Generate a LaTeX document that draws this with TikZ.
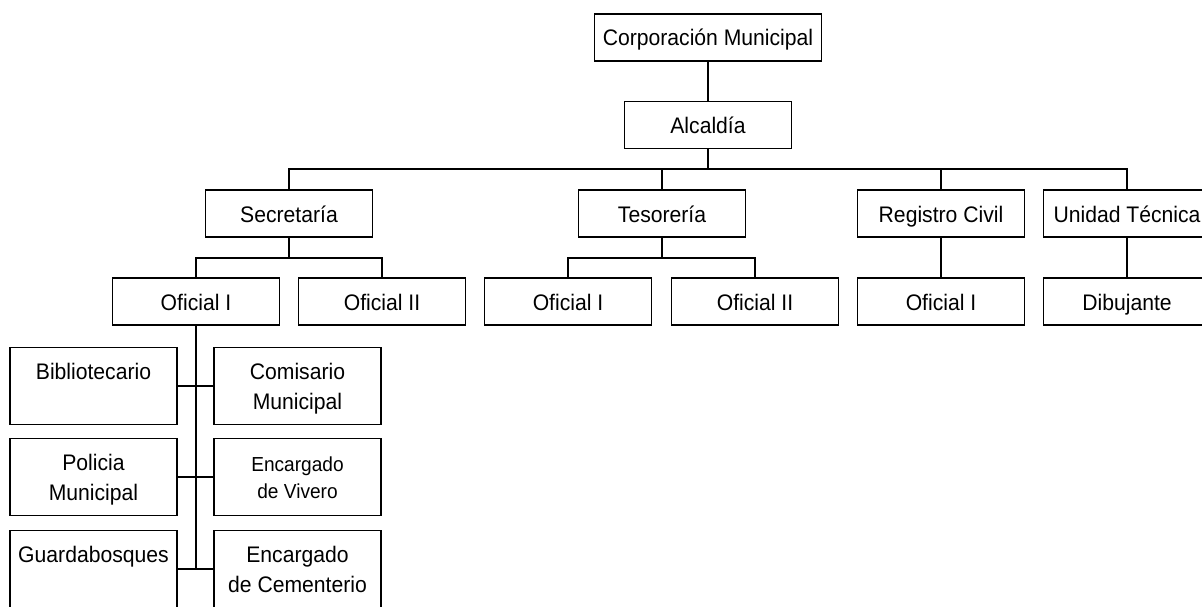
\documentclass[tikz,border=0pt]{standalone}
\usepackage{fontspec}
\setmainfont{Liberation Sans}[FakeStretch=0.94]
\usetikzlibrary{calc}

\begin{document}
\begin{tikzpicture}[x=1pt, y=-1pt, line width=1.5pt,
  unit/.style={draw, rectangle, minimum width=167, minimum height=47, inner sep=0pt,
    align=center, font=\fontsize{22.5}{30}\selectfont, text height=18.5, text depth=1.5},
  wide/.style={unit, minimum width=227},
  tall/.style={unit, minimum height=77, text height=48.5, text depth=1.5},
  talltop/.style={unit, minimum height=77, text height=18.5, text depth=31.5},
  small/.style={font=\fontsize{20.3}{27}\selectfont, text height=43.9, text depth=1.5}]

\clip (0,0) rectangle (1202,607);

%top of the chart
\node[wide] (corp) at (708,37.5) {Corporación Municipal};
\node[unit] (alc) at (708,125) {Alcaldía};

%departments
\node[unit] (sec) at (289,213.5) {Secretaría};
\node[unit] (tes) at (662,213.5) {Tesorería};
\node[unit] (reg) at (941,213.5) {Registro Civil};
\node[unit] (uni) at (1127,213.5) {Unidad Técnica};

%officers
\node[unit] (sof1) at (196,301.5) {Oficial I};
\node[unit] (sof2) at (382,301.5) {Oficial II};
\node[unit] (tof1) at (568,301.5) {Oficial I};
\node[unit] (tof2) at (755,301.5) {Oficial II};
\node[unit] (rof1) at (941,301.5) {Oficial I};
\node[unit] (dib) at (1127,301.5) {Dibujante};

%staff under Oficial I
\node[talltop] (bib) at (93.5,386) {Bibliotecario};
\node[tall] (com) at (297.5,386) {Comisario\\Municipal};
\node[tall] (pol) at (93.5,477) {Policia\\Municipal};
\node[tall, small] (viv) at (297.5,477) {Encargado\\de Vivero};
\node[talltop] (gua) at (93.5,569) {Guardabosques};
\node[tall] (cem) at (297.5,569) {Encargado\\de Cementerio};

%bus points
\coordinate (bus) at (708,169);
\coordinate (secbus) at (289,258);
\coordinate (tesbus) at (662,258);
\coordinate (trunk) at (196,569);

%connectors
\draw (corp) -- (alc);
\draw (alc) -- (bus);
\draw (sec.north) |- (bus) -| (uni.north);
\draw (tes.north) -- (tes.north |- bus);
\draw (reg.north) -- (reg.north |- bus);

\draw (sec) -- (secbus);
\draw (sof1.north) |- (secbus) -| (sof2.north);
\draw (tes) -- (tesbus);
\draw (tof1.north) |- (tesbus) -| (tof2.north);
\draw (reg) -- (rof1);
\draw (uni) -- (dib);

\draw (sof1) -- (trunk);
\draw (bib) -- (com);
\draw (pol) -- (viv);
\draw (gua) -- (cem);

\end{tikzpicture}
\end{document}
